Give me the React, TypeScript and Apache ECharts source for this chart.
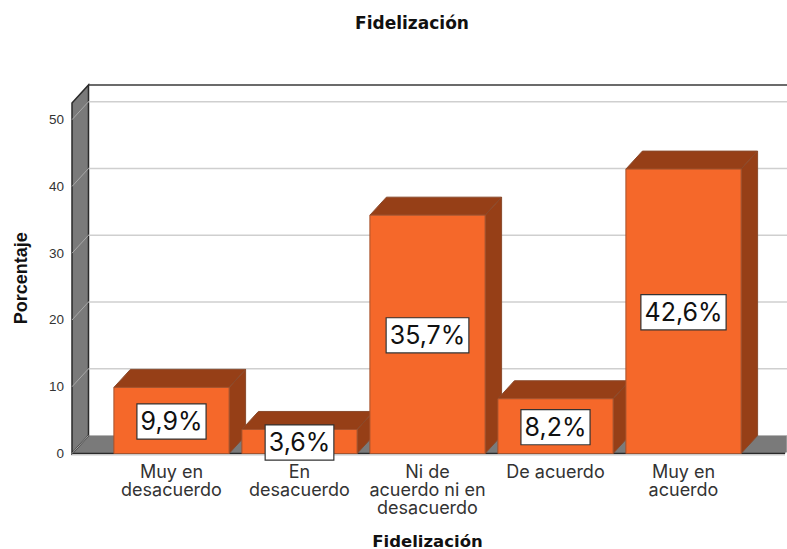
import React, { useEffect, useRef } from "react";
import * as echarts from "echarts";

const categories = ["Muy en\ndesacuerdo", "En\ndesacuerdo", "Ni de\nacuerdo ni en\ndesacuerdo", "De acuerdo", "Muy en\nacuerdo"];
const values = [9.9, 3.6, 35.7, 8.2, 42.6];
const yTicks = [0, 10, 20, 30, 40, 50];
const titleText = "Fidelización";
const xTitle = "Fidelización";
const yTitle = "Porcentaje";

const DX = 16.5;
const DY = -18;
const WALL_L = 72;
const RIGHT = 787;
const AXIS_MAX = 52.5;
const ORANGE = "#f5682a";
const BROWN = "#963f17";
const GREY = "#7a7a7a";
const DARK = "#2a2a2a";
const GRID = "#cfcfcf";
const SANS = "'Liberation Sans', Arial, sans-serif";
const WIDE = "Inter, 'Liberation Sans', sans-serif";
const HEAD = "'DejaVu Sans', sans-serif";

function pts(a: number[][]) {
  return { points: a };
}

function renderWalls(_p: any, api: any) {
  const y0 = api.coord([0, 0])[1];
  const yT = api.coord([0, AXIS_MAX])[1];
  return {
    type: "group",
    children: [
      { type: "rect", shape: { x: WALL_L + DX, y: yT + DY, width: RIGHT - WALL_L - DX, height: y0 - yT }, style: { fill: "#fff" } },
      { type: "line", shape: { x1: WALL_L + DX, y1: yT + DY, x2: RIGHT, y2: yT + DY }, style: { stroke: "#3a3a3a", lineWidth: 1.5 } },
      { type: "polygon", shape: pts([[WALL_L, y0], [WALL_L + DX, y0 + DY], [RIGHT, y0 + DY], [RIGHT, y0 - 2], [RIGHT - 2, y0]]), style: { fill: GREY, stroke: "#b5b5b5", lineWidth: 1 } },
      { type: "polygon", shape: pts([[WALL_L, yT], [WALL_L + DX, yT + DY], [WALL_L + DX, y0 + DY], [WALL_L, y0]]), style: { fill: GREY, stroke: DARK, lineWidth: 1.5 } },
      { type: "line", shape: { x1: WALL_L, y1: y0, x2: RIGHT - 2, y2: y0 }, style: { stroke: DARK, lineWidth: 1.5 } },
      { type: "line", shape: { x1: WALL_L, y1: y0 + 1.5, x2: RIGHT - 2, y2: y0 + 1.5 }, style: { stroke: "#c8c8c8", lineWidth: 1 } },
    ],
  };
}

function renderGrid(_p: any, api: any) {
  const t = api.value(1);
  const y = api.coord([0, t])[1];
  if (t === 0) {
    return { type: "line", shape: { x1: WALL_L, y1: y, x2: WALL_L + DX, y2: y + DY }, style: { stroke: "#a8a8a8", lineWidth: 1 } };
  }
  return {
    type: "group",
    children: [
      { type: "line", shape: { x1: WALL_L + DX, y1: y + DY, x2: RIGHT, y2: y + DY }, style: { stroke: GRID, lineWidth: 1.6 } },
      { type: "line", shape: { x1: WALL_L, y1: y, x2: WALL_L + DX, y2: y + DY }, style: { stroke: "#a8a8a8", lineWidth: 1 } },
    ],
  };
}

function renderBar(_p: any, api: any) {
  const cat = api.value(0);
  const val = api.value(1);
  const [cx, yTop] = api.coord([cat, val]);
  const y0 = api.coord([cat, 0])[1];
  const w = api.size([1, 0])[0] * 0.9;
  const x0 = cx - w / 2;
  const x1 = cx + w / 2;
  const edge = { stroke: "#8a4a2c", lineWidth: 1 };
  return {
    type: "group",
    children: [
      { type: "polygon", shape: pts([[x0, yTop], [x0 + DX, yTop + DY], [x1 + DX, yTop + DY], [x1, yTop]]), style: { fill: BROWN, ...edge } },
      { type: "polygon", shape: pts([[x1, yTop], [x1 + DX, yTop + DY], [x1 + DX, y0 + DY], [x1, y0]]), style: { fill: BROWN, ...edge } },
      { type: "rect", shape: { x: x0, y: yTop, width: w, height: y0 - yTop }, style: { fill: ORANGE, stroke: "#a5522c", lineWidth: 1 } },
      {
        type: "text",
        x: cx,
        y: (yTop + y0) / 2 + 1,
        style: {
          text: val.toFixed(1).replace(".", ",") + "%",
          fontFamily: WIDE,
          fontSize: 25,
          fill: "#111",
          align: "center",
          verticalAlign: "middle",
          backgroundColor: "#fff",
          borderColor: "#333",
          borderWidth: 1.2,
          padding: [5, 3, 4, 3],
        },
      },
    ],
  };
}

export default function App() {
  const ref = useRef<HTMLDivElement>(null);
  useEffect(() => {
    document.body.style.margin = "0";
    const chart = echarts.init(ref.current!, undefined, { renderer: "svg" });
    chart.setOption({
      animation: false,
      backgroundColor: "#fff",
      title: {
        text: titleText,
        left: 407,
        top: 9,
        textAlign: "center",
        textStyle: { fontFamily: HEAD, fontSize: 17, lineHeight: 18, fontWeight: "bold", color: "#111" },
      },
      grid: { left: 107.5, width: 640, top: 103, height: 350.5, outerBoundsMode: "none" },
      xAxis: {
        type: "category",
        data: categories,
        axisLine: { show: false },
        axisTick: { show: false },
        axisLabel: { interval: 0, margin: 9, fontFamily: WIDE, fontSize: 18, lineHeight: 18, color: "#333" },
        name: xTitle,
        nameLocation: "middle",
        nameGap: 82,
        nameTextStyle: { fontFamily: HEAD, fontSize: 16.5, lineHeight: 12, fontWeight: "bold", color: "#111" },
      },
      yAxis: {
        type: "value",
        min: 0,
        max: AXIS_MAX,
        interval: 10,
        offset: 35.5,
        axisLine: { show: false },
        axisTick: { show: false },
        splitLine: { show: false },
        axisLabel: { showMaxLabel: false, margin: 8, padding: [6, 0, 0, 0], fontFamily: SANS, fontSize: 13.5, color: "#333" },
        name: yTitle,
        nameLocation: "middle",
        nameGap: 42,
        nameTextStyle: { fontFamily: SANS, fontSize: 18, fontWeight: "bold", color: "#111" },
      },
      series: [
        { type: "custom", silent: true, z: 1, renderItem: renderWalls, data: [[0, 0]], encode: { x: 0, y: 1 } },
        { type: "custom", silent: true, z: 2, renderItem: renderGrid, data: yTicks.map((t) => [0, t]), encode: { x: 0, y: 1 } },
        { type: "custom", silent: true, z: 3, renderItem: renderBar, data: values.map((v, i) => [i, v]), encode: { x: 0, y: 1 } },
      ],
    });
    return () => chart.dispose();
  }, []);
  return <div ref={ref} style={{ position: "absolute", left: 0, top: 0, width: 787, height: 549 }} />;
}
